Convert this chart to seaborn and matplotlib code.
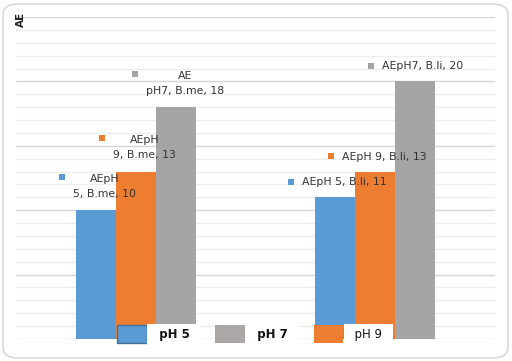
import matplotlib
matplotlib.use("Agg")
import matplotlib.pyplot as plt
import matplotlib.patches as mpatches
from matplotlib.transforms import IdentityTransform
from matplotlib.ticker import MultipleLocator, NullFormatter
import seaborn as sns
import pandas as pd

# ---- data ----
samples = ["B.me", "B.li"]
hue_levels = ["pH 5", "pH 9", "pH 7"]
ae_ph5 = [10, 11]
ae_ph9 = [13, 13]
ae_ph7 = [18, 20]
label_ph5 = ["AEpH\n5, B.me, 10", "AEpH 5, B.li, 11"]
label_ph9 = ["AEpH\n9, B.me, 13", "AEpH 9, B.li, 13"]
label_ph7 = ["AE\npH7, B.me, 18", "AEpH7, B.li, 20"]
legend_order = ["pH 5", "pH 7", "pH 9"]
y_label = "AE"

colors = {"pH 5": "#5B9BD5", "pH 9": "#ED7D31", "pH 7": "#A5A5A5"}
legend_colors = {"pH 5": "#5B9BD5", "pH 7": "#ABA7A7", "pH 9": "#ED7D31"}

df = pd.DataFrame({
    "sample": samples * 3,
    "pH": [hue_levels[0]] * 2 + [hue_levels[1]] * 2 + [hue_levels[2]] * 2,
    "AE": ae_ph5 + ae_ph9 + ae_ph7,
})
labels = {"pH 5": label_ph5, "pH 9": label_ph9, "pH 7": label_ph7}

sns.set_style("white")
plt.rcParams["font.family"] = ["DejaVu Sans"]

W, H = 512, 361
fig = plt.figure(figsize=(W / 100, H / 100), dpi=100)
ax = fig.add_axes([16 / W, (H - 339) / H, (495 - 16) / W, (339 - 17) / H])

sns.barplot(data=df, x="sample", y="AE", hue="pH", hue_order=hue_levels,
            palette=colors, width=0.5, gap=0, errorbar=None, legend=False,
            saturation=1, linewidth=0, edgecolor="none", ax=ax, zorder=2)

ax.set_ylim(0, 25)
ax.set_xlim(-0.5, 1.5)
ax.yaxis.set_major_locator(MultipleLocator(5))
ax.yaxis.set_minor_locator(MultipleLocator(1))
ax.yaxis.set_major_formatter(NullFormatter())
ax.tick_params(axis="both", which="both", length=0, labelbottom=False, labelleft=False)
ax.grid(axis="y", which="minor", color="#EDEDED", lw=1, zorder=0)
ax.grid(axis="y", which="major", color="#D6D6D6", lw=1, zorder=0)
ax.set_axisbelow(True)
ax.set_xlabel("")
ax.set_ylabel("")
for s in ax.spines.values():
    s.set_visible(False)

# y label
fig.text(20.5 / W, (H - 19.5) / H, y_label, rotation=90, fontsize=7.5,
         fontweight="bold", ha="center", va="center", color="#222222")

# data labels
lab_color = "#333333"
fs = 7.8
texts = []
for cont, lvl in zip(ax.containers, hue_levels):
    for bar, lab in zip(cont, labels[lvl]):
        xc = bar.get_x() + bar.get_width() / 2
        top = bar.get_height()
        if "\n" in lab:
            t = ax.annotate(lab, xy=(xc, top), xytext=(9, 24),
                            textcoords="offset pixels", ha="center", va="center",
                            multialignment="center", linespacing=1.65,
                            fontsize=fs, color=lab_color, zorder=5)
            texts.append((t, lvl, 9.5))
        else:
            t = ax.annotate(lab, xy=(xc, top), xytext=(-33, 15),
                            textcoords="offset pixels", ha="left", va="center",
                            fontsize=fs, color=lab_color, zorder=5)
            texts.append((t, lvl, 0.5))

fig.canvas.draw()
r = fig.canvas.get_renderer()
for t, lvl, dy in texts:
    bb = t.get_window_extent(r)
    cy = (bb.y0 + bb.y1) / 2 + dy
    sx = bb.x0 - 11
    sq = mpatches.Rectangle((sx - 3, cy - 3), 6, 6, transform=IdentityTransform(),
                            facecolor=colors[lvl], edgecolor="none", zorder=6)
    fig.add_artist(sq)

# legend
handles = []
for lvl in legend_order:
    ec = "#41719C" if lvl == "pH 5" else "none"
    handles.append(mpatches.Patch(facecolor=legend_colors[lvl], edgecolor=ec, lw=1))
leg = fig.legend(handles, ["  " + l + "  " for l in legend_order],
                 loc="center left", bbox_to_anchor=(117 / W, (H - 334) / H),
                 ncol=3, frameon=False, fontsize=8.5, borderpad=0, borderaxespad=0,
                 handlelength=2.5, handleheight=1.9, handletextpad=0.34,
                 columnspacing=1.5)
for txt, lvl in zip(leg.get_texts(), legend_order):
    txt.set_fontweight("normal" if lvl == "pH 9" else "bold")
    txt.set_color("#111111")
    txt.set_bbox(dict(facecolor="white", edgecolor="none", boxstyle="square,pad=0.3"))
leg.set_zorder(10)

# outer rounded frame
frame = mpatches.FancyBboxPatch((3 / W, 3 / H), (W - 7) / W, (H - 7) / H,
                                boxstyle="round,pad=0,rounding_size=0.03",
                                transform=fig.transFigure, facecolor="none",
                                edgecolor="#D9D9D9", lw=1.2, zorder=0)
fig.add_artist(frame)

fig.savefig("out.png", dpi=100)
